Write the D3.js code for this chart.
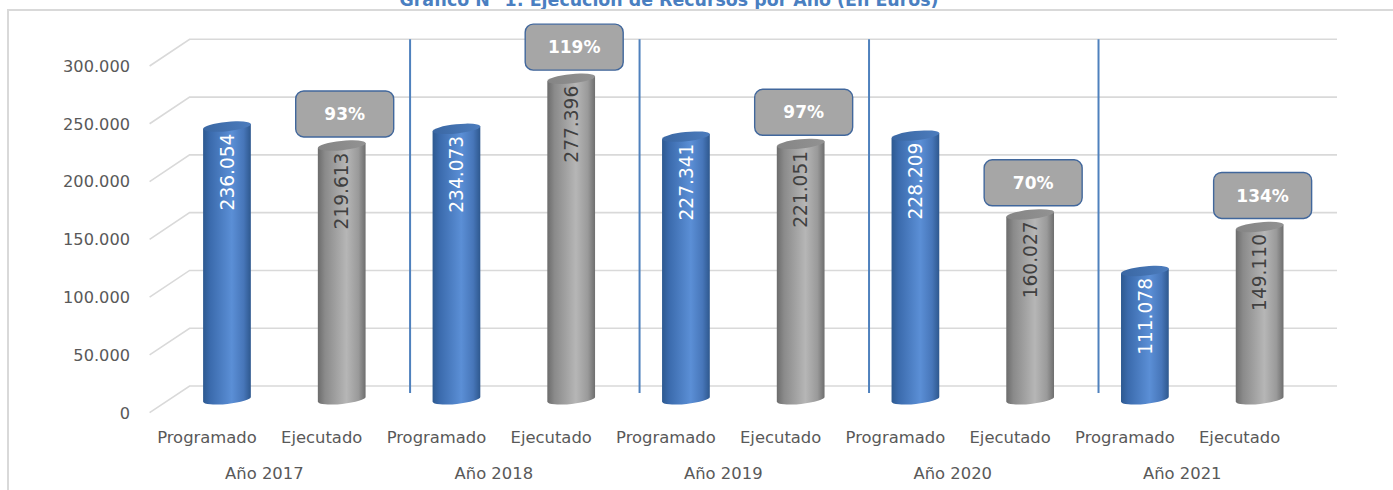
<!DOCTYPE html>
<html>
<head>
<meta charset="utf-8">
<script src="https://cdn.jsdelivr.net/npm/d3@7"></script>
<style>
    body { margin: 0; background: #fff; }
    text { font-family: "DejaVu Sans", sans-serif; }
</style>
</head>
<body>
<script>
// Data
const title = "Gráfico N° 1: Ejecución de Recursos por Año (En Euros)";
const years = ["Año 2017", "Año 2018", "Año 2019", "Año 2020", "Año 2021"];
const seriesNames = ["Programado", "Ejecutado"];
const programado = [236054, 234073, 227341, 228209, 111078];
const ejecutado = [219613, 277396, 221051, 160027, 149110];
const yTicks = [0, 50000, 100000, 150000, 200000, 250000, 300000];

window.onload = main;

function main() {
    const width = 1393, height = 490;
    // 3D depth offset of the back wall relative to the front
    const depthX = 40, depthY = 26.7;

    // flat list of categories (year x series)
    const cats = [];
    years.forEach((yr, i) => {
        cats.push({ key: yr + "|P", year: yr, serie: seriesNames[0], value: programado[i], i });
        cats.push({ key: yr + "|E", year: yr, serie: seriesNames[1], value: ejecutado[i], i });
    });

    const locale = d3.formatLocale({ decimal: ",", thousands: ".", grouping: [3], currency: ["", "€"] });
    const fmt = locale.format(",d");

    const svg = d3.select("body").append("svg")
        .attr("width", width)
        .attr("height", height);

    // Front scale of categories
    const x = d3.scaleBand()
        .domain(cats.map(d => d.key))
        .range([149.6, 1297])
        .padding(0);
    const bw = x.bandwidth();

    // Back wall value scale
    const y = d3.scaleLinear()
        .domain([0, 300000])
        .range([386, 39.3]);

    // gradients
    const defs = svg.append("defs");
    const addGrad = (id, stops) => {
        const g = defs.append("linearGradient").attr("id", id)
            .attr("x1", 0).attr("x2", 1).attr("y1", 0).attr("y2", 0);
        stops.forEach(s => g.append("stop").attr("offset", s[0]).attr("stop-color", s[1]));
    };
    addGrad("gBlue", [[0, "#2d5990"], [0.15, "#3b6bad"], [0.6, "#5b8fd6"], [0.85, "#4776b9"], [1, "#2e588e"]]);
    addGrad("gGray", [[0, "#6c6c6c"], [0.15, "#8a8a8a"], [0.6, "#b6b6b6"], [0.85, "#9a9a9a"], [1, "#6e6e6e"]]);
    addGrad("gBlueTop", [[0, "#3a67a3"], [1, "#4c7cbd"]]);
    addGrad("gGrayTop", [[0, "#858585"], [1, "#929292"]]);

    // Title (partly cut off at the top of the image)
    svg.append("text")
        .attr("x", 669)
        .attr("y", 5.5)
        .attr("text-anchor", "middle")
        .attr("textLength", 539)
        .attr("lengthAdjust", "spacingAndGlyphs")
        .style("font-size", "17px")
        .style("font-weight", "bold")
        .attr("fill", "#4a7fc1")
        .text(title);

    // Chart frame
    svg.append("path")
        .attr("d", `M8,${height} L8,10 L${width},10`)
        .attr("fill", "none")
        .attr("stroke", "#d9d9d9")
        .attr("stroke-width", 2);

    // Gridlines: diagonal on side wall + horizontal on back wall
    const x0 = x.range()[0], x1 = x.range()[1];
    svg.append("g")
        .selectAll("path")
        .data(yTicks)
        .join("path")
        .attr("d", v => `M${x0},${y(v) + depthY} L${x0 + depthX},${y(v)} L${x1 + depthX},${y(v)}`)
        .attr("fill", "none")
        .attr("stroke", "#d9d9d9")
        .attr("stroke-width", 1.6);

    // Y tick labels
    svg.append("g")
        .selectAll("text")
        .data(yTicks)
        .join("text")
        .attr("x", 130)
        .attr("y", v => y(v) + depthY)
        .attr("dy", "0.36em")
        .attr("text-anchor", "end")
        .attr("fill", "#595959")
        .style("font-size", "16.2px")
        .text(v => fmt(v));

    // Year separators
    svg.append("g")
        .selectAll("line")
        .data(years.slice(1))
        .join("line")
        .attr("x1", yr => x(yr + "|P") + 31)
        .attr("x2", yr => x(yr + "|P") + 31)
        .attr("y1", y(300000))
        .attr("y2", y(0) + 7)
        .attr("stroke", "#4f81bd")
        .attr("stroke-width", 2);

    // Cylinders
    const rx = 24, ry = 4.6, tilt = -6;
    const cosT = Math.cos(tilt * Math.PI / 180), sinT = Math.sin(-tilt * Math.PI / 180);
    const cx = d => x(d.key) + bw / 2 + depthX / 2;
    const yMid = v => y(v) + depthY / 2;

    const bars = svg.append("g")
        .selectAll("g")
        .data(cats)
        .join("g");

    bars.append("path")
        .attr("d", d => {
            const c = cx(d), t = yMid(d.value), b = yMid(0);
            const ax = rx * cosT, ay = rx * sinT;
            return `M${c - ax},${t + ay} L${c - ax},${b + ay} ` +
                `A${rx},${ry} ${tilt} 0 0 ${c + ax},${b - ay} ` +
                `L${c + ax},${t - ay} Z`;
        })
        .attr("fill", d => d.serie === "Programado" ? "url(#gBlue)" : "url(#gGray)");

    bars.append("ellipse")
        .attr("cx", 0).attr("cy", 0)
        .attr("rx", rx).attr("ry", ry)
        .attr("transform", d => `translate(${cx(d)},${yMid(d.value)}) rotate(${tilt})`)
        .attr("fill", d => d.serie === "Programado" ? "url(#gBlueTop)" : "url(#gGrayTop)");

    // Value labels inside bars
    bars.append("text")
        .attr("transform", d => `translate(${cx(d)},${yMid(d.value) + 7}) rotate(-90)`)
        .attr("text-anchor", "end")
        .attr("dy", "0.36em")
        .attr("fill", d => d.serie === "Programado" ? "#ffffff" : "#404040")
        .style("font-size", "18.6px")
        .text(d => fmt(d.value));

    // Percentage boxes above the Ejecutado bars
    const boxW = 98, boxH = 46;
    const pct = cats.filter(d => d.serie === "Ejecutado");
    const boxes = svg.append("g")
        .selectAll("g")
        .data(pct)
        .join("g")
        .attr("transform", d => `translate(${cx(d) + 3},${yMid(d.value) - ry - 4 - boxH / 2})`);

    boxes.append("rect")
        .attr("x", -boxW / 2)
        .attr("y", -boxH / 2)
        .attr("width", boxW)
        .attr("height", boxH)
        .attr("rx", 8)
        .attr("fill", "#a6a6a6")
        .attr("stroke", "#41679c")
        .attr("stroke-width", 1.4);

    boxes.append("text")
        .attr("text-anchor", "middle")
        .attr("dy", "0.36em")
        .attr("fill", "#ffffff")
        .style("font-size", "17px")
        .style("font-weight", "bold")
        .text(d => Math.round(100 * d.value / programado[d.i]) + "%");

    // Category labels (series)
    svg.append("g")
        .selectAll("text")
        .data(cats)
        .join("text")
        .attr("x", d => x(d.key) + bw / 2)
        .attr("y", 443)
        .attr("text-anchor", "middle")
        .attr("fill", "#595959")
        .style("font-size", "16.4px")
        .text(d => d.serie);

    // Year labels
    svg.append("g")
        .selectAll("text")
        .data(years)
        .join("text")
        .attr("x", yr => x(yr + "|P") + bw)
        .attr("y", 479)
        .attr("text-anchor", "middle")
        .attr("fill", "#595959")
        .style("font-size", "16.4px")
        .text(yr => yr);
}
</script>
</body>
</html>
